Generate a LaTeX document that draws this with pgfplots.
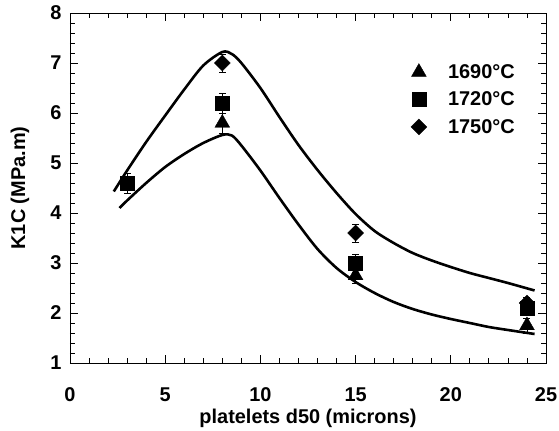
\documentclass[border=0pt]{standalone}
\usepackage{pgfplots}
\pgfplotsset{compat=1.18}
\usepackage{fontspec}
\setmainfont{Liberation Sans}
\begin{document}
\begin{tikzpicture}
\begin{axis}[
    at={(0,0)}, anchor=south west,
    scale only axis,
    width=476bp, height=350bp,
    xmin=0, xmax=25,
    ymin=1, ymax=8,
    xtick={0,5,...,25},
    ytick={1,2,...,8},
    minor x tick num=4,
    minor y tick num=4,
    major tick length=8bp,
    minor tick length=5bp,
    tick style={black, line width=0.8pt},
    axis line style={line width=0.9pt},
    /pgf/number format/assume math mode=true,
    tick label style={font=\fontsize{20}{22}\selectfont\bfseries},
    xticklabel style={anchor=center, yshift=-32bp},
    yticklabel style={anchor=east, xshift=-5bp},
    xlabel={platelets d50 (microns)},
    ylabel={K1C (MPa.m)},
    label style={font=\fontsize{20}{22}\selectfont\bfseries},
    xlabel style={at={([yshift=-55bp]axis description cs:0.5,0)}, anchor=center},
    ylabel style={at={([xshift=-50bp]axis description cs:0,0.5)}, anchor=center},
    legend style={at={(rel axis cs:0.708,0.865)}, anchor=north west, draw=none, fill=none,
        font=\fontsize{20}{22}\selectfont\bfseries, row sep=8bp},
    legend cell align=left,
    legend image code/.code={\draw[#1] plot coordinates {(0.3cm,0cm)}; \path (0cm,0cm) (0.3cm+27bp,0cm);},
    clip=false,
]
% model curves
\addplot[black, line width=2.6pt, smooth, forget plot] coordinates {
    (2.3,4.43) (3,4.85) (4,5.42) (5,5.95) (6,6.47) (7,6.95) (8,7.22) (8.5,7.18)
    (9,7.0) (10,6.5) (11,5.92) (12,5.36) (13,4.86) (14,4.4) (15,3.98) (16,3.64)
    (17,3.4) (18,3.2) (19,3.05) (20,2.92) (21,2.8) (22,2.7) (23,2.6) (24.4,2.45)
};
\addplot[black, line width=2.6pt, smooth, forget plot] coordinates {
    (2.6,4.1) (3,4.25) (4,4.6) (5,4.92) (6,5.18) (7,5.4) (8,5.56) (8.5,5.55)
    (9,5.35) (10,4.85) (11,4.3) (12,3.77) (13,3.28) (14,2.9) (15,2.62) (16,2.4)
    (17,2.22) (18,2.08) (19,1.97) (20,1.88) (21,1.8) (22,1.72) (23,1.66) (24.4,1.58)
};
% measured data
\addplot[only marks, black, mark=triangle*, mark size=8.5bp,
    error bars/.cd, y dir=both, y explicit,
    error bar style={line width=0.6pt}, error mark options={rotate=90, mark size=3.5bp, line width=0.6pt}]
coordinates {
    (8,5.8) +- (0,0.2)
    (15,2.75) +- (0,0.15)
    (24,1.75) +- (0,0.15)
};
\addlegendentry{1690°C}
\addplot[only marks, black, mark=square*, mark size=7bp,
    error bars/.cd, y dir=both, y explicit,
    error bar style={line width=0.6pt}, error mark options={rotate=90, mark size=3.5bp, line width=0.6pt}]
coordinates {
    (3,4.6) +- (0,0.2)
    (8,6.2) +- (0,0.2)
    (15,3.0) +- (0,0.18)
    (24,2.1) +- (0,0.15)
};
\addlegendentry{1720°C}
\addplot[only marks, black, mark=square*, mark size=5.6bp, mark options={rotate=45},
    error bars/.cd, y dir=both, y explicit,
    error bar style={line width=0.6pt}, error mark options={rotate=90, mark size=3.5bp, line width=0.6pt}]
coordinates {
    (8,7.0) +- (0,0.18)
    (15,3.6) +- (0,0.18)
    (24,2.2) +- (0,0.12)
};
\addlegendentry{1750°C}
\end{axis}
\pgfresetboundingbox
\path[use as bounding box] (-70bp,-68bp) rectangle (489bp,363bp);
\end{tikzpicture}
\end{document}
